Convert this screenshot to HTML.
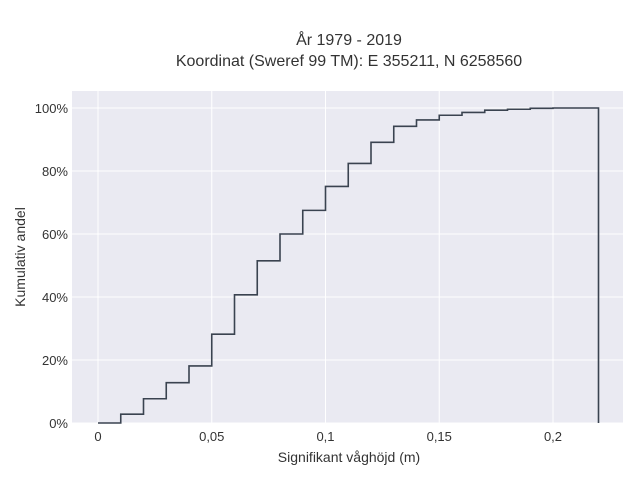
<!DOCTYPE html>
<html><head><meta charset="utf-8"><style>
body{margin:0;background:#fff;font-family:"Liberation Sans",sans-serif;}
svg text{font-family:"Liberation Sans",sans-serif;fill:#333;}
</style></head><body>
<svg id="chart" width="640" height="480">
<text x="349" y="45" text-anchor="middle" font-size="16">År 1979 - 2019</text>
<text x="349" y="66" text-anchor="middle" font-size="16">Koordinat (Sweref 99 TM): E 355211, N 6258560</text>
<rect x="72" y="91" width="551" height="332" fill="#eaeaf2"/>
<g id="grid"></g>
<g id="xticks"></g>
<g id="yticks"></g>
<path id="line" fill="none" stroke="#3a4350" stroke-width="1.6"/>
<text x="349" y="462" text-anchor="middle" font-size="14">Signifikant våghöjd (m)</text>
<text transform="translate(25,257) rotate(-90)" text-anchor="middle" font-size="14">Kumulativ andel</text>
</svg>
<script>
const binEdges=[0,0.01,0.02,0.03,0.04,0.05,0.06,0.07,0.08,0.09,0.10,0.11,0.12,0.13,0.14,0.15,0.16,0.17,0.18,0.19,0.20,0.21,0.22];
const cumValues=[0,2.8,7.7,12.8,18.1,28.2,40.7,51.5,60,67.5,75.1,82.4,89.1,94.2,96.2,97.7,98.6,99.3,99.6,99.9,100,100];
const xTicks=[0,0.05,0.1,0.15,0.2];
const xTickLabels=["0","0,05","0,1","0,15","0,2"];
const yTicks=[0,20,40,60,80,100];
const yTickLabels=["0%","20%","40%","60%","80%","100%"];
const NS="http://www.w3.org/2000/svg";
function xs(v){return 98+v*2275;}
function ys(v){return 423-v*3.15;}
const grid=document.getElementById('grid'),xt=document.getElementById('xticks'),yt=document.getElementById('yticks');
xTicks.forEach((t,i)=>{
 const l=document.createElementNS(NS,'line');
 l.setAttribute('x1',xs(t));l.setAttribute('x2',xs(t));l.setAttribute('y1',91);l.setAttribute('y2',423);
 l.setAttribute('stroke','#fff');l.setAttribute('stroke-width','1');
 
 
 grid.appendChild(l);
 const tx=document.createElementNS(NS,'text');
 tx.setAttribute('x',xs(t));tx.setAttribute('y',441);tx.setAttribute('text-anchor','middle');tx.setAttribute('font-size','13');
 tx.textContent=xTickLabels[i];
 
 
 xt.appendChild(tx);
});
yTicks.forEach((t,i)=>{
 const l=document.createElementNS(NS,'line');
 l.setAttribute('x1',72);l.setAttribute('x2',623);l.setAttribute('y1',ys(t));l.setAttribute('y2',ys(t));
 l.setAttribute('stroke','#fff');l.setAttribute('stroke-width','1');
 
 
 grid.appendChild(l);
 const tx=document.createElementNS(NS,'text');
 tx.setAttribute('x',68);tx.setAttribute('y',ys(t)+5);tx.setAttribute('text-anchor','end');tx.setAttribute('font-size','13');
 tx.textContent=yTickLabels[i];
 
 
 yt.appendChild(tx);
});
let d='M'+xs(binEdges[0])+','+ys(cumValues[0]);
cumValues.forEach((v,i)=>{
 d+=' L'+xs(binEdges[i])+','+ys(v)+' L'+xs(binEdges[i+1])+','+ys(v);
});
d+=' L'+xs(binEdges[binEdges.length-1])+','+ys(0);
document.getElementById('line').setAttribute('d',d);
</script>
</body></html>
